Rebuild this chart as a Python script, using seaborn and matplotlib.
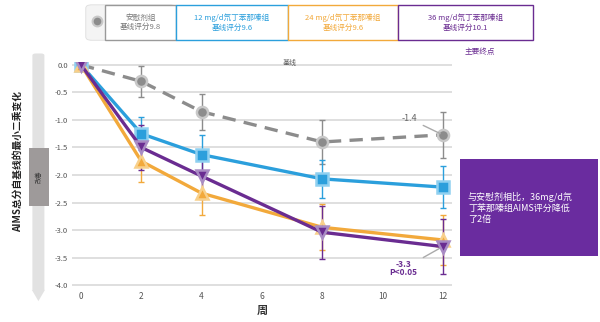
import matplotlib
matplotlib.use("Agg")
import matplotlib.pyplot as plt
from matplotlib.patches import FancyBboxPatch, Rectangle, Polygon
import seaborn as sns
import pandas as pd
import numpy as np

sns.set_theme(style="white")
plt.rcParams['font.family'] = ['Noto Sans CJK SC', 'DejaVu Sans']

weeks = [0, 2, 4, 8, 12]
groups = ["安慰剂组", "12 mg/d氘丁苯那嗪组", "24 mg/d氘丁苯那嗪组", "36 mg/d氘丁苯那嗪组"]
baseline_labels = ["基线评分9.8", "基线评分9.6", "基线评分9.6", "基线评分10.1"]
placebo = [0.0, -0.30, -0.85, -1.40, -1.27]
mg12 = [0.0, -1.25, -1.63, -2.07, -2.22]
mg24 = [0.0, -1.75, -2.33, -2.95, -3.18]
mg36 = [0.0, -1.50, -2.02, -3.04, -3.30]
err_placebo = [0.0, 0.28, 0.33, 0.40, 0.42]
err_12 = [0.0, 0.30, 0.36, 0.35, 0.38]
err_24 = [0.0, 0.38, 0.40, 0.42, 0.45]
err_36 = [0.0, 0.40, 0.42, 0.48, 0.50]
yticks = [0.0, -0.5, -1.0, -1.5, -2.0, -2.5, -3.0, -3.5, -4.0]
xticks = [0, 2, 4, 6, 8, 10, 12]

colors = ["#8c8c8c", "#2b9fdc", "#f2a93b", "#6a2c91"]
edge_colors = ["#c8c8c8", "#8fd0f0", "#f8d08a", "#a98cc4"]
markers = ["o", "s", "^", "v"]
values = [placebo, mg12, mg24, mg36]
errs = [err_placebo, err_12, err_24, err_36]

rows = []
for g, v in zip(groups, values):
    for w, y in zip(weeks, v):
        rows.append({"week": w, "change": y, "group": g})
df = pd.DataFrame(rows)

fig = plt.figure(figsize=(6.0, 3.22), dpi=100)
ax = fig.add_axes([0.12, 0.106, 0.633, 0.701])

# error bars first
for v, e, c in zip(values, errs, colors):
    ax.errorbar(weeks, v, yerr=e, fmt="none", ecolor=c, elinewidth=1.0, capsize=2.5, capthick=1.0, zorder=2)

for i in range(4):
    sub = df[df["group"] == groups[i]]
    sns.lineplot(data=sub, x="week", y="change", ax=ax, color=colors[i],
                 linewidth=2.4, linestyle=(0, (4, 2.5)) if i == 0 else "-",
                 marker=markers[i], markersize=9 if i in (2, 3) else 8,
                 markeredgecolor=edge_colors[i], markeredgewidth=1.8,
                 markerfacecolor=colors[i], zorder=3 + i, legend=False, errorbar=None)

ax.set_xlim(-0.3, 12.3)
ax.set_ylim(-4.05, 0.05)
ax.set_yticks(yticks)
ax.set_yticklabels([f"{t:.1f}" for t in yticks], fontsize=5.5, color="#555555")
ax.set_xticks(xticks)
ax.set_xticklabels([str(t) for t in xticks], fontsize=6, color="#555555")
ax.yaxis.grid(True, color="#d9d9d9", linewidth=1.2)
ax.xaxis.grid(False)
for s in ["top", "right", "left", "bottom"]:
    ax.spines[s].set_visible(False)
ax.tick_params(axis="both", length=0, pad=3)
ax.set_xlabel("周", fontsize=8, fontweight="bold", color="#333333", labelpad=2)
ax.set_ylabel("")

# annotations
ax.annotate("-1.4", xy=(12, placebo[-1]), xytext=(10.9, -0.98), fontsize=6.5, color="#666666",
            ha="center", va="center",
            arrowprops=dict(arrowstyle="-", color="#aaaaaa", lw=1.0))
ax.annotate("-3.3\nP<0.05", xy=(12, mg36[-1]), xytext=(10.7, -3.7), fontsize=6, color="#6a2c91",
            ha="center", va="center", fontweight="bold", linespacing=0.9,
            arrowprops=dict(arrowstyle="-", color="#aaaaaa", lw=1.0))

# y label and improvement bar
fig.text(0.03, 0.5, "AIMS总分自基线的最小二乘变化", rotation=90, fontsize=7, fontweight="bold",
         color="#222222", ha="center", va="center")
fig.patches.append(FancyBboxPatch((0.058, 0.10), 0.012, 0.73, boxstyle="round,pad=0.004,rounding_size=0.006",
                                  transform=fig.transFigure, facecolor="#e2e2e2", edgecolor="none"))
fig.patches.append(Polygon([[0.053, 0.10], [0.075, 0.10], [0.064, 0.065]], closed=True,
                           transform=fig.transFigure, facecolor="#e2e2e2", edgecolor="none"))
fig.patches.append(Rectangle((0.048, 0.36), 0.033, 0.18, transform=fig.transFigure,
                             facecolor="#9e9a9a", edgecolor="none"))
fig.text(0.0645, 0.45, "改善", rotation=90, fontsize=4.5, color="#333333", ha="center", va="center")

# header texts
fig.text(0.483, 0.805, "基线", fontsize=5, color="#555555", ha="center", va="center")
fig.text(0.80, 0.838, "主要终点", fontsize=5.5, color="#6a2c91", ha="center", va="center")

# legend boxes
fig.patches.append(FancyBboxPatch((0.143, 0.875), 0.15, 0.11, boxstyle="round,pad=0.0,rounding_size=0.01",
                                  transform=fig.transFigure, facecolor="#f4f4f4", edgecolor="#dddddd", lw=0.6))
fig.lines.append(plt.Line2D([0.162], [0.935], marker="o", markersize=7, color="#8c8c8c",
                            markeredgecolor="#c8c8c8", markeredgewidth=1.5, transform=fig.transFigure))
box_x = [0.175, 0.293, 0.48, 0.663]
box_w = [0.118, 0.187, 0.183, 0.225]
for i in range(4):
    fig.patches.append(Rectangle((box_x[i], 0.875), box_w[i], 0.11, transform=fig.transFigure,
                                 facecolor="white", edgecolor=colors[i] if i else "#999999", lw=1.0))
    fig.text(box_x[i] + box_w[i] / 2, 0.93, groups[i] + "\n" + baseline_labels[i], fontsize=5.5,
             color=colors[i] if i else "#777777", ha="center", va="center", linespacing=1.2)

# purple callout box
fig.patches.append(Rectangle((0.767, 0.205), 0.23, 0.30, transform=fig.transFigure,
                             facecolor="#6a2c9f", edgecolor="none"))
fig.text(0.78, 0.355, "与安慰剂相比，36mg/d氘\n丁苯那嗪组AIMS评分降低\n了2倍", fontsize=6.5,
         color="white", ha="left", va="center", linespacing=1.25)

fig.savefig("out.png", dpi=100)
